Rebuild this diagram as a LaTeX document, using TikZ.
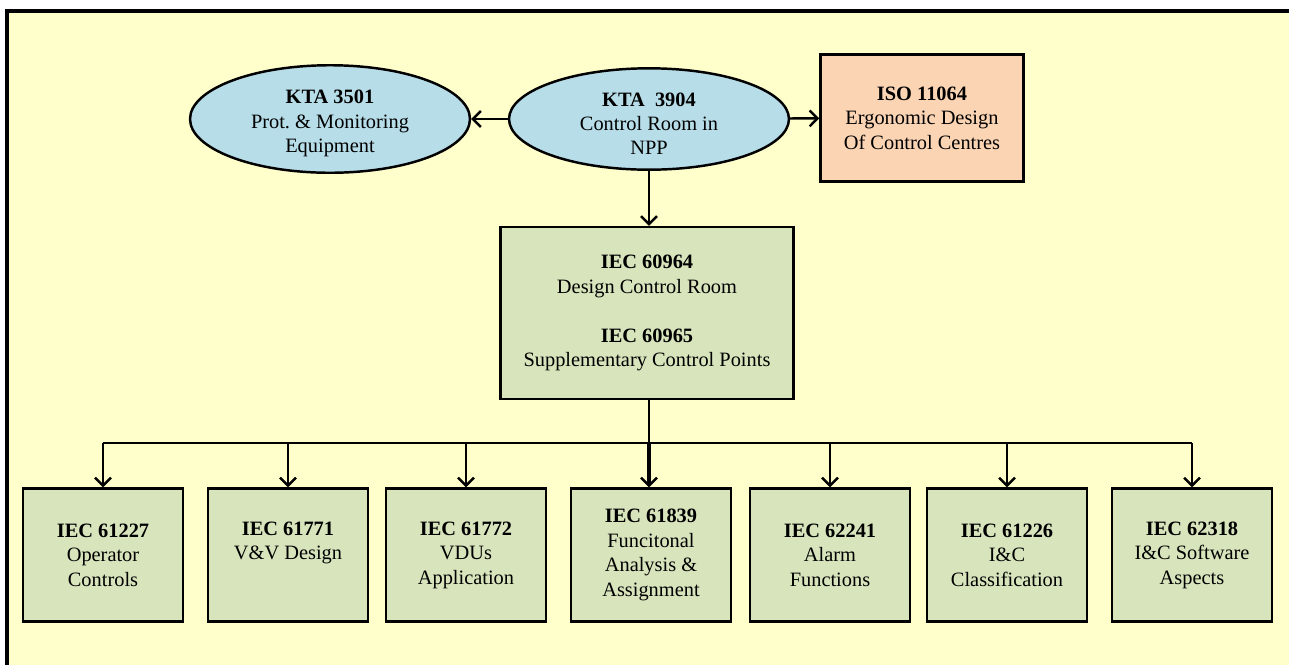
\documentclass[tikz,border=0pt]{standalone}
\usepackage{fontspec}
\setmainfont{Liberation Serif}
\usetikzlibrary{shapes.geometric,arrows.meta}

\definecolor{paper}{HTML}{FFFFCC}
\definecolor{ktablue}{HTML}{B7DDE8}
\definecolor{isopeach}{HTML}{FBD4B4}
\definecolor{iecgreen}{HTML}{D7E4BC}

\tikzset{
  every node/.style={align=center,font=\fontsize{11.6}{13.9}\selectfont},
  kta/.style={ellipse,draw,line width=1.4pt,fill=ktablue,minimum width=5.6cm,minimum height=2cm,inner sep=0pt},
  isobox/.style={rectangle,draw,line width=1.4pt,fill=isopeach,minimum width=4.06cm,minimum height=2.54cm},
  iecbox/.style={rectangle,draw,line width=1.4pt,fill=iecgreen,minimum width=3.2cm,minimum height=2.66cm},
  link/.style={line width=1.4pt,-{Straight Barb[length=4.5pt,width=9pt,line width=1.4pt]}}
}

\begin{document}
\begin{tikzpicture}[x=0.02cm,y=-0.02cm]
  \useasboundingbox (0,0) rectangle (1289,664);
  \begin{scope}
    \clip (0,0) rectangle (1289,664);
    \draw[line width=1.8pt,fill=paper] (7,11) rectangle (1310,690);
  \end{scope}

  % top row
  \node[kta] (kta3501) at (330,119) {\rule{0pt}{13pt}\textbf{KTA 3501}\\Prot.\ \& Monitoring\\Equipment};
  \node[kta] (kta3904) at (649,119) {\rule{0pt}{13pt}\textbf{KTA\ \ 3904}\\Control Room in\\NPP};
  \node[isobox] (iso) at (922,118) {\textbf{ISO 11064}\\Ergonomic Design\\Of Control Centres};

  % middle
  \node[iecbox,minimum width=5.86cm,minimum height=3.44cm] (iec60964) at (647,313)
    {\textbf{IEC 60964}\\Design Control Room\\[13.9pt]\textbf{IEC 60965}\\Supplementary Control Points};

  % bottom row
  \node[iecbox] (b1) at (103,555) {\textbf{IEC 61227}\\Operator\\Controls};
  \node[iecbox] (b2) at (288,555) {\textbf{IEC 61771}\\V\&V Design\\\phantom{Xg}};
  \node[iecbox] (b3) at (466,555) {\textbf{IEC 61772}\\VDUs\\Application};
  \node[iecbox] (b4) at (651,555) {\textbf{IEC 61839}\\Funcitonal\\Analysis \&\\Assignment};
  \node[iecbox] (b5) at (830,555) {\textbf{IEC 62241}\\Alarm\\Functions};
  \node[iecbox] (b6) at (1007,555) {\textbf{IEC 61226}\\I\&C\\Classification};
  \node[iecbox] (b7) at (1192,555) {\textbf{IEC 62318}\\I\&C Software\\Aspects};

  \coordinate (bus) at (649,443);

  \draw[link] (kta3904) -- (kta3501);
  \draw[link] (kta3904) -- (iso);
  \draw[link] (kta3904.south) -- (kta3904.south |- iec60964.north);
  \draw[line width=1.4pt] (iec60964.south -| bus) -- (bus);
  \draw[line width=1.4pt] (b1.north |- bus) -- (b7.north |- bus);
  \draw[link] (b1.north |- bus) -- (b1.north);
  \draw[link] (b2.north |- bus) -- (b2.north);
  \draw[link] (b3.north |- bus) -- (b3.north);
  \draw[link,line width=1.9pt] (bus) -- (bus |- b4.north);
  \draw[link] (b5.north |- bus) -- (b5.north);
  \draw[link] (b6.north |- bus) -- (b6.north);
  \draw[link] (b7.north |- bus) -- (b7.north);
\end{tikzpicture}
\end{document}
